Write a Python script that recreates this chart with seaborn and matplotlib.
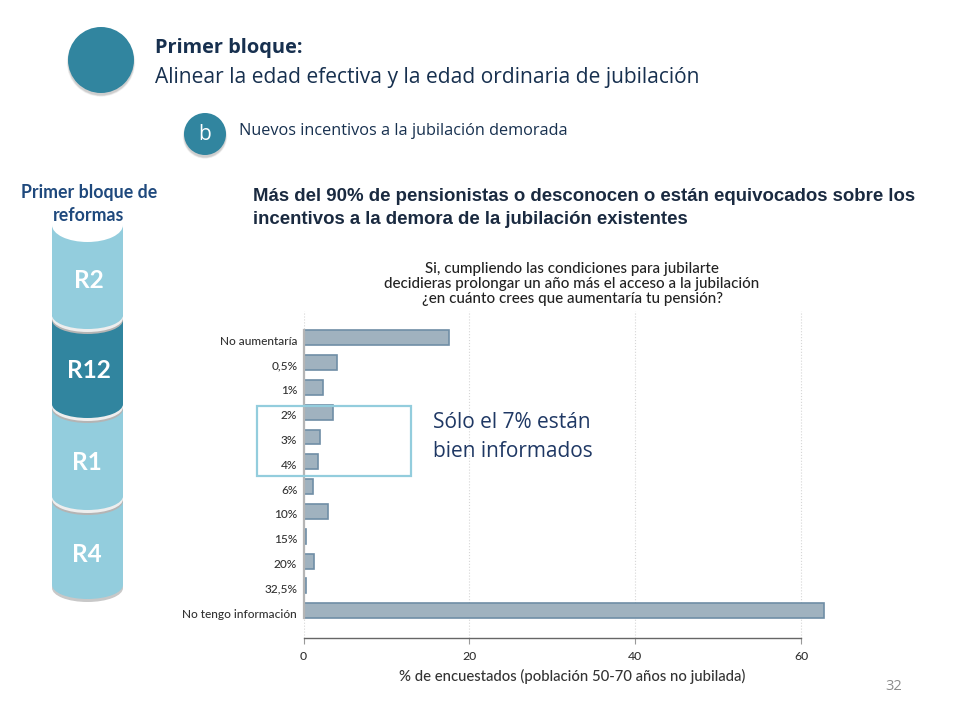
# plot.py: survey bar chart on a presentation slide (primer bloque de reformas).

import matplotlib
matplotlib.use('Agg')
import matplotlib.pyplot as plt
from matplotlib.patches import Circle, Ellipse, Rectangle
from matplotlib.transforms import ScaledTranslation
import pandas as pd
import seaborn as sns

# Chart data
answers = ['No aumentaría', '0,5%', '1%', '2%', '3%', '4%', '6%', '10%', '15%', '20%', '32,5%', 'No tengo información']
percent = [17.6, 4.0, 2.3, 3.6, 2.0, 1.8, 1.2, 2.9, 0.35, 1.25, 0.25, 62.8]
x_ticks = [0, 20, 40, 60]

# Cylinder stack, from back to front
block_labels = ['R4', 'R1', 'R12', 'R2']

TEAL = '#31859f'
LIGHT = '#93cddd'
NAVY = '#1f3864'
DARK = '#17304f'
BAR = '#a0b2bf'
BAR_EDGE = '#6f8ea6'
LABEL = '#333333'

sns.set_theme(style='white')
plt.rcParams['font.family'] = ['Open Sans', 'DejaVu Sans']

fig = plt.figure(figsize=(9.6, 7.2), dpi=100)
W, H = 960, 720


def px_axes(left, top, right, bottom):
    """Axes placed with pixel coordinates measured from the top left corner."""
    return fig.add_axes([left / W, 1 - bottom / H, (right - left) / W, (bottom - top) / H])


# Slide layer in pixels (y grows downward)
slide = fig.add_axes([0, 0, 1, 1])
slide.set_xlim(0, W)
slide.set_ylim(H, 0)
slide.axis('off')


def disc(x, y, r):
    # Soft shadow made of a few faint circles
    for grow, alpha in [(1.2, 0.08), (0.6, 0.12), (0, 0.18)]:
        slide.add_patch(Circle((x, y + 2.5), r + grow, color='#707070', alpha=alpha, lw=0))
    slide.add_patch(Circle((x, y), r, color=TEAL, lw=0))


disc(101, 60, 33)
disc(205, 134, 21)
slide.text(205, 134, 'b', color='white', fontsize=15, ha='center', va='center')

slide.text(155, 48, 'Primer bloque:', color=DARK, fontsize=14.4, fontweight='bold', va='center')
slide.text(155, 78, 'Alinear la edad efectiva y la edad ordinaria de jubilación', color=DARK, fontsize=15.1, va='center')
slide.text(239, 131, 'Nuevos incentivos a la jubilación demorada', color=DARK, fontsize=11.7, va='center')

slide.text(89, 204, 'Primer bloque de\nreformas', color='#1f497d', fontsize=12.8, fontweight='bold',
           ha='center', va='center', linespacing=1.45, family=['Lato', 'DejaVu Sans'])

# Cylinders: (top edge y, y of the bottom ellipse centre, colour)
cyl_left, cyl_right = 52, 123
cyl_w = cyl_right - cyl_left
cyl_x = (cyl_left + cyl_right) / 2
cyl_rows = [(495, 585, LIGHT), (403, 496, LIGHT), (314, 404, TEAL), (225, 315, LIGHT)]
label_y = [554.5, 463, 370.5, 280.5]
label_x = [87, 87, 89, 89]
for (top, bottom, color), name, lx, ly in zip(cyl_rows, block_labels, label_x, label_y):
    if name == 'R4':
        slide.add_patch(Ellipse((cyl_x, bottom + 3), cyl_w, 28, color='#c8c8c8', lw=0))
    else:
        slide.add_patch(Ellipse((cyl_x, bottom + 5), cyl_w, 28, color='#b4b4b4', lw=0))
        slide.add_patch(Ellipse((cyl_x, bottom + 3), cyl_w, 28, color='#eeeeee', lw=0))
    slide.add_patch(Ellipse((cyl_x, bottom), cyl_w, 28, color=color, lw=0))
    slide.add_patch(Rectangle((cyl_left, top), cyl_w, bottom - top, color=color, lw=0))
    slide.text(lx, ly, name, color='white', fontsize=17.6, fontweight='bold', ha='center', va='center',
               family=['Lato', 'DejaVu Sans'])
# White hollow on top of the stack
slide.add_patch(Ellipse((cyl_x, 225), cyl_w, 34, color='white', lw=0))

# Headline
slide.text(253, 208, 'Más del 90% de pensionistas o desconocen o están equivocados sobre los\n'
                     'incentivos a la demora de la jubilación existentes',
           color='#1a2a40', fontsize=13.4, fontweight='bold', va='center', linespacing=1.4,
           family=['Liberation Sans', 'DejaVu Sans'])

# Chart title, as drawn above the bars
slide.text(572, 284, 'Si, cumpliendo las condiciones para jubilarte\n'
                     'decidieras prolongar un año más el acceso a la jubilación\n'
                     '¿en cuánto crees que aumentaría tu pensión?',
           color='#222222', fontsize=10.9, fontweight='medium', ha='center', va='center', linespacing=1.13,
           family=['Lato', 'DejaVu Sans'])

slide.text(894, 687, '32', color='#8c8c8c', fontsize=10.5, ha='center', va='center')

# Bar chart
df = pd.DataFrame({'answer': answers, 'percent': percent})
ax = px_axes(303.5, 311, 831, 637.5)
ax.patch.set_alpha(0)
sns.barplot(data=df, x='percent', y='answer', order=answers, ax=ax, color=BAR, saturation=1,
            width=0.6, edgecolor=BAR_EDGE, linewidth=1.2)
ax.set_xlim(0, 63.6)
ax.set_ylim(12.08, -1.075)
ax.set_xticks(x_ticks)
ax.set_xlabel('% de encuestados (población 50-70 años no jubilada)', fontsize=10.7, fontweight='medium',
              color=LABEL, family=['Lato', 'DejaVu Sans'], labelpad=6)
ax.xaxis.set_label_coords(0.509, -0.097)
ax.set_ylabel('')
ax.grid(axis='x', linestyle=':', color='#d6d6d6', linewidth=0.8)
ax.set_axisbelow(True)
sns.despine(ax=ax, top=True, right=True, left=False, bottom=False)
# Left line only runs along the bars, bottom line stops at the last tick
ax.spines['left'].set_color('#b5b5b5')
ax.spines['left'].set_linewidth(1.6)
ax.spines['left'].set_bounds(-0.3, 11.3)
ax.spines['bottom'].set_color('#666666')
ax.spines['bottom'].set_linewidth(1.0)
ax.spines['bottom'].set_bounds(0, 60)
ax.tick_params(axis='y', length=0, pad=4.5)
ax.tick_params(axis='x', bottom=True, length=4, width=0.8, color='#999999', pad=6)
# The answer labels sit a little below the centre of their bars
label_shift = ScaledTranslation(0, -2.5 / 100, fig.dpi_scale_trans)
for tick in ax.get_yticklabels():
    tick.set(fontsize=8.6, fontweight='medium', color=LABEL, family=['Lato', 'DejaVu Sans'])
    tick.set_transform(tick.get_transform() + label_shift)
for tick in ax.get_xticklabels():
    tick.set(fontsize=8.8, fontweight='medium', color=LABEL, family=['Lato', 'DejaVu Sans'])

# Annotation on top of the chart
over = fig.add_axes([0, 0, 1, 1])
over.set_xlim(0, W)
over.set_ylim(H, 0)
over.axis('off')
over.patch.set_alpha(0)
over.add_patch(Rectangle((257, 406), 153.5, 69.5, fill=False, edgecolor=LIGHT, linewidth=1.6))
over.text(433, 422, 'Sólo el 7% están', color=NAVY, fontsize=15, va='center')
over.text(433, 451.5, 'bien informados', color=NAVY, fontsize=15, va='center')

plt.savefig('out.png', dpi=100)
